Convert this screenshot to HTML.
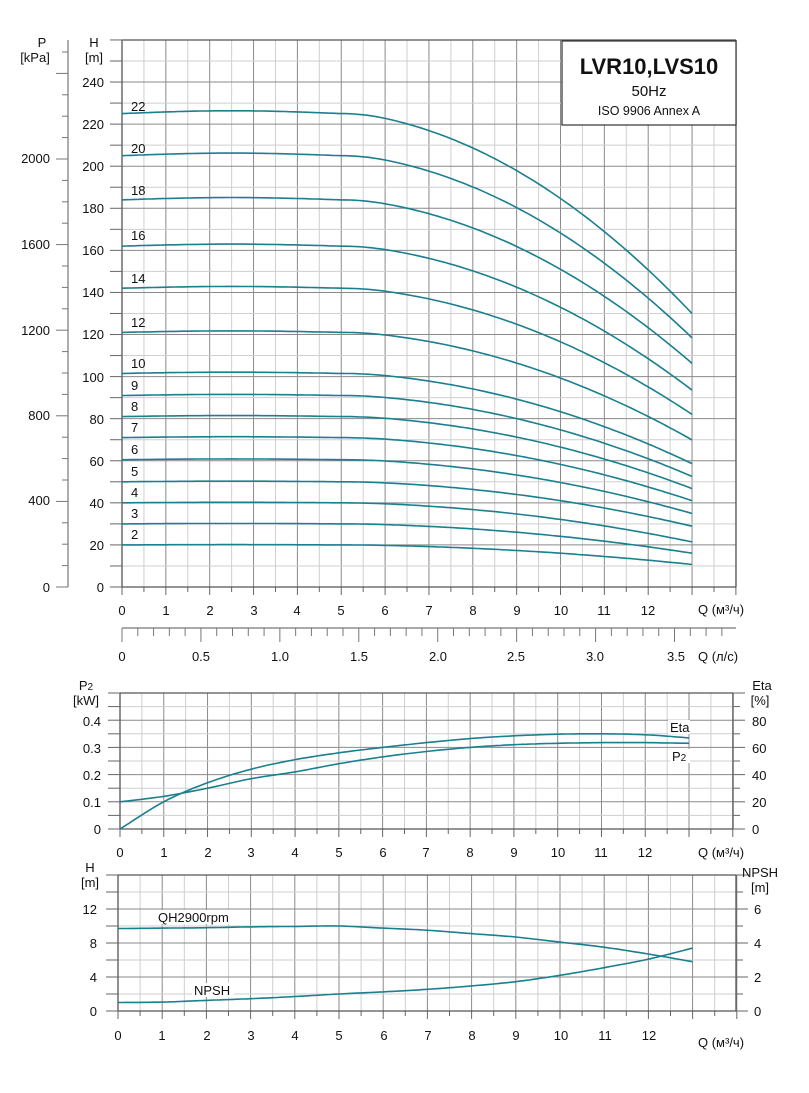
<!DOCTYPE html>
<html><head><meta charset="utf-8"><style>
body{margin:0;background:#fff}
svg{display:block;font-family:"Liberation Sans",sans-serif;font-size:13px;fill:#111}
</style></head><body>
<svg id="s" width="809" height="1093" xmlns="http://www.w3.org/2000/svg">
<g id="grid"></g>
<g id="curves" fill="none" stroke="#1a7f8e" stroke-width="1.6"></g>
<text x="42" y="47" text-anchor="middle">P</text>
<text x="35" y="62" text-anchor="middle">[kPa]</text>
<text x="94" y="47" text-anchor="middle">H</text>
<text x="94" y="62" text-anchor="middle">[m]</text>
<g text-anchor="end">
<text x="50" y="592">0</text><text x="50" y="505">400</text><text x="50" y="420">800</text>
<text x="50" y="335">1200</text><text x="50" y="249">1600</text><text x="50" y="163">2000</text>
<text x="104" y="592">0</text><text x="104" y="550">20</text><text x="104" y="508">40</text>
<text x="104" y="466">60</text><text x="104" y="424">80</text><text x="104" y="382">100</text>
<text x="104" y="339">120</text><text x="104" y="297">140</text><text x="104" y="255">160</text>
<text x="104" y="213">180</text><text x="104" y="171">200</text><text x="104" y="129">220</text>
<text x="104" y="87">240</text>
</g>
<g text-anchor="start">
<text x="131" y="111">22</text><text x="131" y="153">20</text><text x="131" y="195">18</text>
<text x="131" y="240">16</text><text x="131" y="283">14</text><text x="131" y="327">12</text>
<text x="131" y="368">10</text><text x="131" y="390">9</text><text x="131" y="411">8</text>
<text x="131" y="432">7</text><text x="131" y="454">6</text><text x="131" y="476">5</text>
<text x="131" y="497">4</text><text x="131" y="518">3</text><text x="131" y="539">2</text>
</g>
<rect x="562" y="41" width="174" height="84" fill="#fff" stroke="#333" stroke-width="1.2"/>
<text x="649" y="74" text-anchor="middle" font-weight="bold" font-size="22">LVR10,LVS10</text>
<text x="649" y="96" text-anchor="middle" font-size="15">50Hz</text>
<text x="649" y="115" text-anchor="middle" font-size="12.5">ISO 9906 Annex A</text>
<text x="698" y="614">Q (м³/ч)</text>
<text x="698" y="661">Q (л/с)</text>
<g text-anchor="middle">
<text x="122" y="661">0</text><text x="201" y="661">0.5</text><text x="280" y="661">1.0</text>
<text x="359" y="661">1.5</text><text x="438" y="661">2.0</text><text x="516" y="661">2.5</text>
<text x="595" y="661">3.0</text><text x="676" y="661">3.5</text>
</g>
<text x="86" y="690" text-anchor="middle">P<tspan font-size="10">2</tspan></text>
<text x="86" y="705" text-anchor="middle">[kW]</text>
<text x="762" y="690" text-anchor="middle">Eta</text>
<text x="760" y="705" text-anchor="middle">[%]</text>
<g text-anchor="end">
<text x="101" y="834">0</text><text x="101" y="807">0.1</text><text x="101" y="780">0.2</text>
<text x="101" y="753">0.3</text><text x="101" y="726">0.4</text>
</g>
<g text-anchor="start">
<text x="752" y="834">0</text><text x="752" y="807">20</text><text x="752" y="780">40</text>
<text x="752" y="753">60</text><text x="752" y="726">80</text>
</g>
<rect x="668" y="720" width="22" height="14" fill="#fff"/>
<text x="670" y="732">Eta</text>
<rect x="670" y="749" width="20" height="14" fill="#fff"/>
<text x="672" y="761">P<tspan font-size="10">2</tspan></text>
<text x="698" y="857">Q (м³/ч)</text>
<text x="90" y="872" text-anchor="middle">H</text>
<text x="90" y="887" text-anchor="middle">[m]</text>
<text x="760" y="877" text-anchor="middle">NPSH</text>
<text x="760" y="892" text-anchor="middle">[m]</text>
<g text-anchor="end">
<text x="97" y="1016">0</text><text x="97" y="982">4</text><text x="97" y="948">8</text><text x="97" y="914">12</text>
</g>
<g text-anchor="start">
<text x="754" y="1016">0</text><text x="754" y="982">2</text><text x="754" y="948">4</text><text x="754" y="914">6</text>
</g>
<rect x="156" y="910" width="76" height="14" fill="#fff"/>
<text x="158" y="922">QH2900rpm</text>
<rect x="192" y="983" width="42" height="14" fill="#fff"/>
<text x="194" y="995">NPSH</text>
<text x="698" y="1047">Q (м³/ч)</text>
<g text-anchor="middle">
<text x="122" y="615">0</text><text x="166" y="615">1</text><text x="210" y="615">2</text><text x="254" y="615">3</text>
<text x="297" y="615">4</text><text x="341" y="615">5</text><text x="385" y="615">6</text><text x="429" y="615">7</text>
<text x="473" y="615">8</text><text x="517" y="615">9</text><text x="561" y="615">10</text><text x="604" y="615">11</text>
<text x="648" y="615">12</text>
<text x="120" y="857">0</text><text x="164" y="857">1</text><text x="208" y="857">2</text><text x="251" y="857">3</text>
<text x="295" y="857">4</text><text x="339" y="857">5</text><text x="383" y="857">6</text><text x="426" y="857">7</text>
<text x="470" y="857">8</text><text x="514" y="857">9</text><text x="558" y="857">10</text><text x="601" y="857">11</text>
<text x="645" y="857">12</text>
<text x="118" y="1040">0</text><text x="162" y="1040">1</text><text x="207" y="1040">2</text><text x="251" y="1040">3</text>
<text x="295" y="1040">4</text><text x="339" y="1040">5</text><text x="384" y="1040">6</text><text x="428" y="1040">7</text>
<text x="472" y="1040">8</text><text x="516" y="1040">9</text><text x="561" y="1040">10</text><text x="605" y="1040">11</text>
<text x="649" y="1040">12</text>
</g>
</svg>
<script>
var NS="http://www.w3.org/2000/svg",G=document.getElementById("grid"),C=document.getElementById("curves");
function L(x1,y1,x2,y2,c,w){var l=document.createElementNS(NS,"line");l.setAttribute("x1",x1);l.setAttribute("y1",y1);l.setAttribute("x2",x2);l.setAttribute("y2",y2);l.setAttribute("stroke",c);l.setAttribute("stroke-width",w||1);G.appendChild(l);}
function P(pts){var d="";for(var i=0;i<pts.length;i++)d+=(i?"L":"M")+pts[i][0].toFixed(1)+" "+pts[i][1].toFixed(1);var p=document.createElementNS(NS,"path");p.setAttribute("d",d);C.appendChild(p);}
function interp(tab,q){for(var i=0;i<tab.length-1;i++){if(q<=tab[i+1][0]+1e-9){var t=(q-tab[i][0])/(tab[i+1][0]-tab[i][0]);
var b=tab[i][1],c=tab[i+1][1];
var m0=i>0?(c-tab[i-1][1])/2:(c-b),m1=i<tab.length-2?(tab[i+2][1]-b)/2:(c-b);
var t2=t*t,t3=t2*t;return (2*t3-3*t2+1)*b+(t3-2*t2+t)*m0+(-2*t3+3*t2)*c+(t3-t2)*m1;}}return tab[tab.length-1][1];}
function chart(x0,sx,yb,top,right,sy,hstep,hmajor,hmax){
 for(var q=0;q<=14.001;q+=0.5){var x=x0+q*sx,maj=Math.abs(q-Math.round(q))<0.01;L(x,top,x,yb,maj?"#8a8a8a":"#cfcfcf",1);L(x,yb,x,yb+(maj?8:5),"#666",1);}
 for(var h=0;h<=hmax+0.001;h+=hstep){var y=yb-h*sy,k=Math.round(h/hstep),maj=k%hmajor==0;L(x0,y,right,y,maj?"#8a8a8a":"#cfcfcf",1);}
 L(x0,top,right,top,"#555",1.3);L(x0,yb,right,yb,"#555",1.3);L(x0,top,x0,yb,"#555",1.3);L(right,top,right,yb,"#555",1.3);
}
var sx=43.85,x0=122,yb=587,sy=2.104;
chart(x0,sx,yb,40,736,sy,10,2,260);
for(var h=0;h<=260;h+=10){var y=yb-h*sy;L(x0-12,y,x0,y,"#666",1);}
L(68,40,68,587,"#777",1.2);
for(var k=0;k<=25;k++){var y=587-k*21.4;if(y<42)break;L(k%4==0?56:62,y,68,y,"#777",1);}
L(122,628,736,628,"#777",1.2);
for(var k=0;k<=38;k++){var x=122+k*0.1*3.6*sx;if(x>737)break;L(x,628,x,k%5==0?642:636,"#777",1);}
function f(q){if(q<=5)return 1+0.006*Math.sin(Math.PI*q/5);var d=q-5;
 var b=0.00913*(d<1?d*d/2:d-0.5);return 1-b-0.00553*d*d;}
var H0=[20,30,40,50,60.5,71,81,91,101.5,121,142,162,184,205,225];
H0.forEach(function(h0){var pts=[];for(var q=0;q<=13.001;q+=0.1){var r=f(q);if(h0<45)r=1-(1-r)*1.1;pts.push([x0+q*sx,yb-h0*r*sy]);}P(pts);});
var mx0=120,msx=43.77,myb=829,msy=1.36;
chart(mx0,msx,myb,693,733,msy,10,2,100);
for(var e=0;e<=100;e+=10){var y=myb-e*msy;L(108,y,mx0,y,"#666",1);L(733,y,e%20==0?745:740,y,"#666",1);}
var eta=[[0,0],[1,20],[2,34],[3,44],[4,51],[5,56],[6,60],[7,63.5],[8,66.5],[9,68.5],[10,69.7],[11,70],[12,69.3],[13,67]];
var p2=[[0,20],[1,24],[2,30],[3,37],[4,42],[5,48],[6,53],[7,57],[8,60],[9,62],[10,63],[11,63.5],[12,63.5],[13,63]];
[eta,p2].forEach(function(t){var pts=[];for(var q=0;q<=13.001;q+=0.1)pts.push([mx0+q*msx,myb-interp(t,q)*msy]);P(pts);});
var bx0=118,bsx=44.2,byb=1011,bsy=8.5;
chart(bx0,bsx,byb,875,736,bsy,2,2,16);
for(var h=0;h<=16;h+=2){var y=byb-h*bsy;L(106,y,bx0,y,"#666",1);L(736,y,h%4==0?748:743,y,"#666",1);}
var qh=[[0,9.7],[1,9.75],[2,9.8],[3,9.9],[4,9.95],[5,10],[6,9.75],[7,9.5],[8,9.1],[9,8.7],[10,8.1],[11,7.5],[12,6.7],[13,5.8]];
var np=[[0,1],[1,1.05],[2,1.25],[3,1.45],[4,1.7],[5,2.0],[6,2.25],[7,2.55],[8,2.95],[9,3.45],[10,4.2],[11,5.1],[12,6.1],[13,7.4]];
[qh,np].forEach(function(t){var pts=[];for(var q=0;q<=13.001;q+=0.1)pts.push([bx0+q*bsx,byb-interp(t,q)*bsy]);P(pts);});
</script>
</body></html>
